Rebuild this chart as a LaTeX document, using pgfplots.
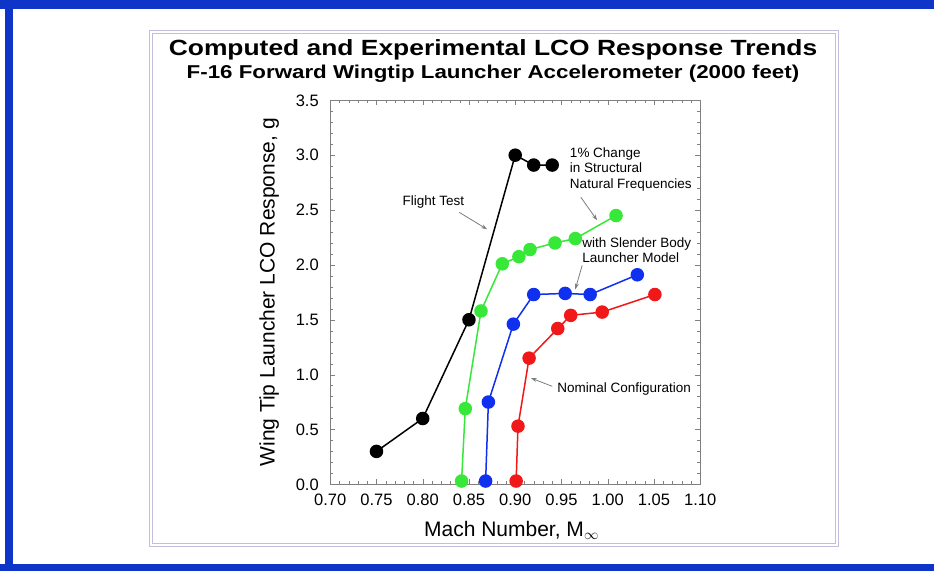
\documentclass[border=0pt]{standalone}
\usepackage{pgfplots}
\pgfplotsset{compat=1.18}
\usepackage{fontspec}
\setmainfont{Liberation Sans}
\newfontfamily\titlefont[FakeStretch=1.2]{Liberation Sans}
\usetikzlibrary{arrows.meta}

\definecolor{framebl}{RGB}{14,52,200}
\definecolor{boxgray}{RGB}{192,192,222}
\definecolor{lcogreen}{RGB}{56,232,56}
\definecolor{lcoblue}{RGB}{16,48,240}
\definecolor{lcored}{RGB}{240,24,24}
\definecolor{annot}{RGB}{125,125,125}

\begin{document}
\begin{tikzpicture}[x=1pt,y=1pt]
\useasboundingbox (0,0) rectangle (934,571);
\fill[white] (0,0) rectangle (934,571);
% outer blue frame
\fill[framebl] (0,562) rectangle (934,571);
\fill[framebl] (0,0) rectangle (934,7);
\fill[framebl] (4.5,0) rectangle (12.5,571);
% double grey border around the plot panel
\draw[boxgray, line width=1pt] (149,25) rectangle (838,540);
\draw[boxgray, line width=1pt] (152,28) rectangle (835,537);

\node[anchor=base, inner sep=0pt, font=\titlefont\bfseries\fontsize{22}{26}\selectfont]
  at (493,515) {Computed and Experimental LCO Response Trends};
\node[anchor=base, inner sep=0pt, font=\titlefont\bfseries\fontsize{18.6}{22}\selectfont]
  at (493,492) {F-16 Forward Wingtip Launcher Accelerometer (2000 feet)};

\begin{axis}[
  at={(357,79)}, anchor=south west,
  width=370pt, height=384pt, scale only axis,
  xmin=0.70, xmax=1.10, ymin=0, ymax=3.5,
  xtick={0.70,0.75,0.80,0.85,0.90,0.95,1.00,1.05,1.10},
  ytick={0,0.5,1.0,1.5,2.0,2.5,3.0,3.5},
  minor x tick num=4, minor y tick num=4,
  tick align=inside, major tick length=5pt, minor tick length=3pt,
  xticklabel style={yshift=-6pt, /pgf/number format/.cd, fixed, fixed zerofill, precision=2},
  yticklabel style={xshift=-8pt, /pgf/number format/.cd, fixed, fixed zerofill, precision=1},
  /pgf/number format/assume math mode=true,
  ticklabel style={font=\fontsize{16.5}{18}\selectfont},
  axis line style={gray}, tick style={gray},
  xlabel={Mach Number, M$_{\infty}$},
  ylabel={Wing Tip Launcher LCO Response, g},
  label style={font=\fontsize{21}{24}\selectfont},
  xlabel style={at={(axis description cs:0.49,-0.1354)}, anchor=base},
  ylabel style={at={(axis description cs:-0.165,0.5)}, anchor=center},
  every axis plot/.append style={line width=1.5pt, mark=*, mark size=6pt, mark options={solid}},
  clip=false,
]
% Flight test
\addplot[black] coordinates {
  (0.75,0.30) (0.80,0.60) (0.85,1.50) (0.90,3.00) (0.92,2.91) (0.94,2.91)};
% 1% change in structural natural frequencies
\addplot[lcogreen] coordinates {
  (0.842,0.03) (0.846,0.69) (0.863,1.58) (0.886,2.01) (0.904,2.075)
  (0.916,2.14) (0.943,2.20) (0.965,2.24) (1.009,2.45)};
% slender body launcher model
\addplot[lcoblue] coordinates {
  (0.868,0.03) (0.871,0.75) (0.898,1.46) (0.920,1.73) (0.954,1.74)
  (0.981,1.73) (1.032,1.91)};
% nominal configuration
\addplot[lcored] coordinates {
  (0.901,0.03) (0.903,0.53) (0.915,1.15) (0.946,1.42) (0.960,1.54)
  (0.994,1.57) (1.051,1.73)};

\begin{scope}[font=\fontsize{13.5}{15.5}\selectfont]
\node[anchor=west, inner sep=0pt] at (axis cs:0.778,2.57) {Flight Test};
\draw[annot, line width=0.8pt, -{Stealth[length=6pt,width=4pt]}]
  (axis cs:0.8395,2.479) -- (axis cs:0.8697,2.324);
\node[anchor=north west, inner sep=0pt, align=left] at (axis cs:0.959,3.07)
  {1\% Change\\in Structural\\Natural Frequencies};
\draw[annot, line width=0.8pt, -{Stealth[length=6pt,width=4pt]}]
  (axis cs:0.971,2.616) -- (axis cs:0.9886,2.406);
\node[anchor=north west, inner sep=0pt, align=left] at (axis cs:0.9724,2.25)
  {with Slender Body\\Launcher Model};
\draw[annot, line width=0.8pt, -{Stealth[length=6pt,width=4pt]}]
  (axis cs:0.9724,1.996) -- (axis cs:0.9649,1.777);
\node[anchor=west, inner sep=0pt] at (axis cs:0.9454,0.869) {Nominal Configuration};
\draw[annot, line width=0.8pt, -{Stealth[length=6pt,width=4pt]}]
  (axis cs:0.940,0.893) -- (axis cs:0.917,0.969);
\end{scope}
\end{axis}
\end{tikzpicture}
\end{document}
